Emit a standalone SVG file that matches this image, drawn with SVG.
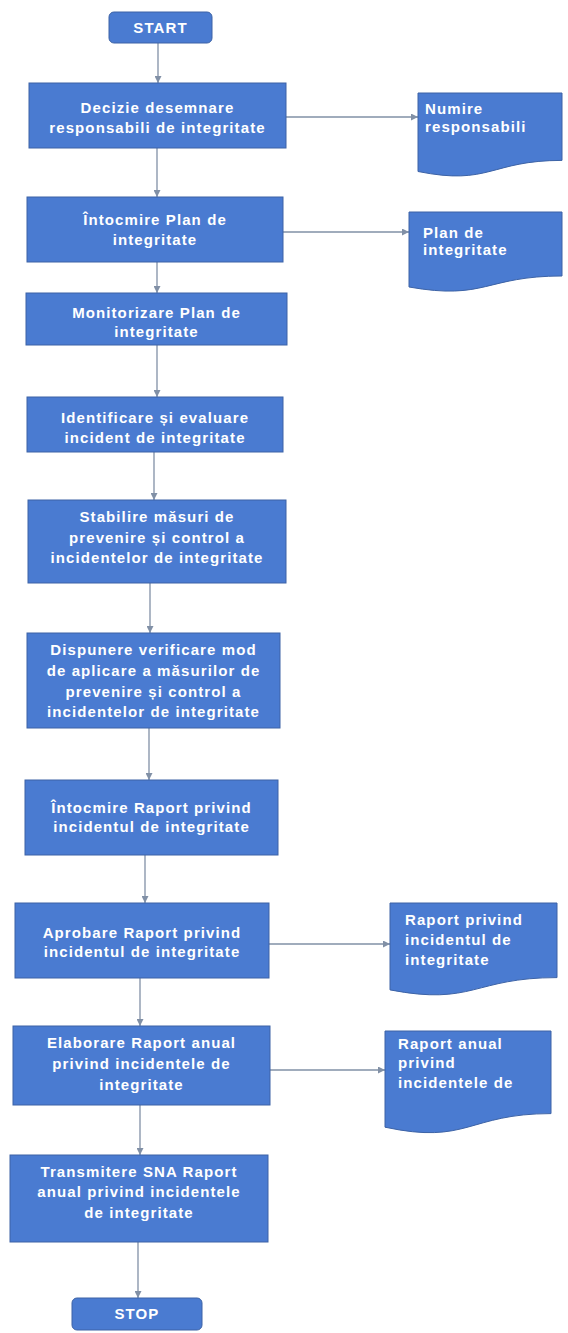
<svg xmlns="http://www.w3.org/2000/svg" width="568" height="1333" viewBox="0 0 568 1333">
<style>
.box{fill:#4a7bd1;stroke:#3d63a6;stroke-width:1}
.t{font-family:"Liberation Sans",Arial,sans-serif;font-weight:bold;font-size:15px;fill:#ffffff;text-anchor:middle;letter-spacing:1.1px}
.d{font-family:"Liberation Sans",Arial,sans-serif;font-weight:bold;font-size:15px;fill:#ffffff;text-anchor:start;letter-spacing:1.1px}
.c{stroke:#8190a6;stroke-width:1.3;fill:none;marker-end:url(#ah)}
</style>
<defs>
<marker id="ah" markerUnits="userSpaceOnUse" markerWidth="7" markerHeight="7" refX="7" refY="3.5" orient="auto">
<path d="M0,0 L7,3.5 L0,7 Z" fill="#8190a6"/>
</marker>
</defs>
<rect width="568" height="1333" fill="#ffffff"/>
<g id="connectors">
<line class="c" x1="158" y1="43" x2="158" y2="83"/>
<line class="c" x1="157" y1="148" x2="157" y2="197"/>
<line class="c" x1="157" y1="262" x2="157" y2="293"/>
<line class="c" x1="157" y1="345" x2="157" y2="397"/>
<line class="c" x1="154" y1="452" x2="154" y2="500"/>
<line class="c" x1="150" y1="583" x2="150" y2="633"/>
<line class="c" x1="149" y1="728" x2="149" y2="780"/>
<line class="c" x1="145" y1="855" x2="145" y2="903"/>
<line class="c" x1="140" y1="978" x2="140" y2="1026"/>
<line class="c" x1="140" y1="1105" x2="140" y2="1155"/>
<line class="c" x1="138" y1="1242" x2="138" y2="1298"/>
<line class="c" x1="286" y1="117" x2="418" y2="117"/>
<line class="c" x1="283" y1="232" x2="409" y2="232"/>
<line class="c" x1="269" y1="944" x2="390" y2="944"/>
<line class="c" x1="270" y1="1070" x2="385" y2="1070"/>
</g>
<g id="start">
<rect class="box" x="109" y="12" width="103" height="31" rx="5"/>
<text class="t" x="160.5" y="33">START</text>
</g>
<g id="decizie">
<rect class="box" x="29" y="83" width="257" height="65"/>
<text class="t" x="157.5" y="113">Decizie desemnare</text>
<text class="t" x="157.5" y="133">responsabili de integritate</text>
</g>
<g id="intocmire-plan">
<rect class="box" x="27" y="197" width="256" height="65"/>
<text class="t" x="155" y="225">Întocmire Plan de</text>
<text class="t" x="155" y="245">integritate</text>
</g>
<g id="monitorizare">
<rect class="box" x="26" y="293" width="261" height="52"/>
<text class="t" x="156.5" y="318">Monitorizare Plan de</text>
<text class="t" x="156.5" y="337">integritate</text>
</g>
<g id="identificare">
<rect class="box" x="27" y="397" width="256" height="55"/>
<text class="t" x="155" y="423">Identificare și evaluare</text>
<text class="t" x="155" y="443">incident de integritate</text>
</g>
<g id="stabilire">
<rect class="box" x="28" y="500" width="258" height="83"/>
<text class="t" x="157" y="522">Stabilire măsuri de</text>
<text class="t" x="157" y="543">prevenire și control a</text>
<text class="t" x="157" y="563">incidentelor de integritate</text>
</g>
<g id="dispunere">
<rect class="box" x="27" y="633" width="253" height="95"/>
<text class="t" x="153.5" y="655">Dispunere verificare mod</text>
<text class="t" x="153.5" y="676">de aplicare a măsurilor de</text>
<text class="t" x="153.5" y="697">prevenire și control a</text>
<text class="t" x="153.5" y="717">incidentelor de integritate</text>
</g>
<g id="intocmire-raport">
<rect class="box" x="25" y="780" width="253" height="75"/>
<text class="t" x="151.5" y="813">Întocmire Raport privind</text>
<text class="t" x="151.5" y="832">incidentul de integritate</text>
</g>
<g id="aprobare">
<rect class="box" x="15" y="903" width="254" height="75"/>
<text class="t" x="142" y="938">Aprobare Raport privind</text>
<text class="t" x="142" y="957">incidentul de integritate</text>
</g>
<g id="elaborare">
<rect class="box" x="13" y="1026" width="257" height="79"/>
<text class="t" x="141.5" y="1048">Elaborare Raport anual</text>
<text class="t" x="141.5" y="1069">privind incidentele de</text>
<text class="t" x="141.5" y="1090">integritate</text>
</g>
<g id="transmitere">
<rect class="box" x="10" y="1155" width="258" height="87"/>
<text class="t" x="139" y="1177">Transmitere SNA Raport</text>
<text class="t" x="139" y="1197">anual privind incidentele</text>
<text class="t" x="139" y="1218">de integritate</text>
</g>
<g id="stop">
<rect class="box" x="72" y="1298" width="130" height="32" rx="5"/>
<text class="t" x="137" y="1319">STOP</text>
</g>
<g id="doc-numire">
<path class="box" d="M418,93 H562 V160.4 C490,160.4 490,186 418,171.5 Z"/>
<text class="d" x="425" y="114">Numire</text>
<text class="d" x="425" y="132">responsabili</text>
</g>
<g id="doc-plan">
<path class="box" d="M409,212 H562 V276 C485.5,276 485.5,300.6 409,287 Z"/>
<text class="d" x="423" y="238">Plan de</text>
<text class="d" x="423" y="255">integritate</text>
</g>
<g id="doc-raport">
<path class="box" d="M390,903 H557 V977.6 C473.5,977.6 473.5,1006 390,989.9 Z"/>
<text class="d" x="405" y="925">Raport privind</text>
<text class="d" x="405" y="945">incidentul de</text>
<text class="d" x="405" y="965">integritate</text>
</g>
<g id="doc-raport-anual">
<path class="box" d="M385,1031 H551 V1113.6 C468,1113.6 468,1145 385,1127.2 Z"/>
<text class="d" x="398" y="1049">Raport anual</text>
<text class="d" x="398" y="1068">privind</text>
<text class="d" x="398" y="1088">incidentele de</text>
</g>
</svg>
